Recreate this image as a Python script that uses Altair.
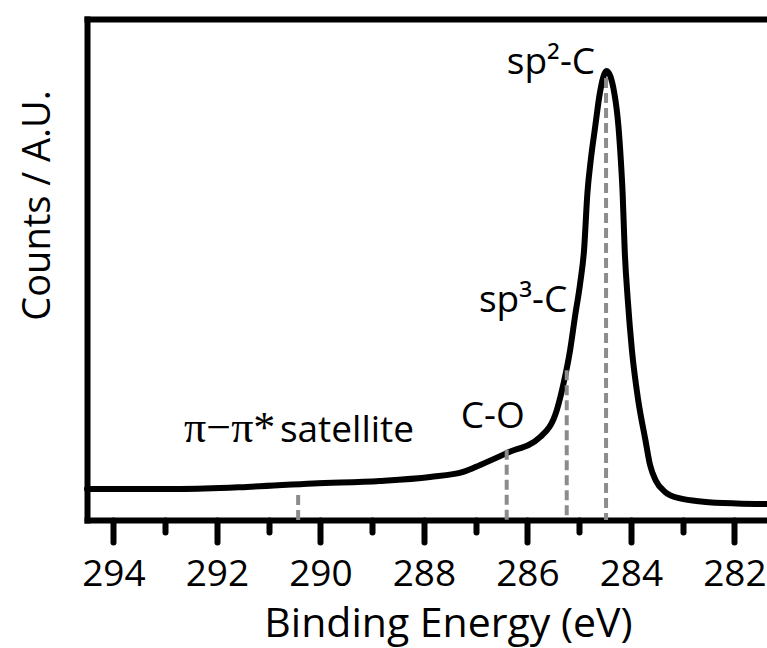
import altair as alt
import pandas as pd

# ---- spectrum ----
energy = [294.51, 292.71, 291.42, 290.14, 288.85, 287.88, 287.24, 286.91, 286.39,
          285.75, 285.43, 285.30, 285.175, 285.08, 284.98, 284.905, 284.84, 284.775,
          284.69, 284.60, 284.47, 284.32, 284.24, 284.195, 284.16, 284.12, 284.06,
          283.98, 283.86, 283.72, 283.63, 283.52, 283.34, 283.05, 282.60, 281.95, 281.37]
counts = [6.2, 6.2, 6.6, 7.3, 7.8, 8.6, 9.6, 11.0, 13.4,
          16.6, 22.0, 27.3, 33.9, 40.6, 47.3, 53.9, 65.3, 71.9,
          78.5, 85.2, 89.6, 85.2, 78.5, 71.9, 65.3, 53.9, 43.9,
          33.9, 24.0, 16.0, 11.0, 7.9, 5.6, 4.3, 3.65, 3.3, 3.2]

# ---- component positions (dashed markers) ----
marker_energy = [290.43, 286.40, 285.24, 284.48]
marker_top = [5.0, 14.0, 29.9, 88.2]
marker_bottom = [0, 0, 0, 0]

# ---- annotations ----
ann_text = ["sp²-C", "sp³-C", "C-O", "satellite"]
ann_energy = [284.69, 285.23, 286.05, 288.19]
ann_counts = [89.0, 41.5, 18.4, 15.6]
greek_text = ["π−π*"]
greek_energy = [290.87]
greek_counts = [15.6]

# ---- axis ----
x_domain = [281.37, 294.51]
y_domain = [0, 100]
tick_values = [282, 283, 284, 285, 286, 287, 288, 289, 290, 291, 292, 293, 294]

FONT = "Open Sans"

spec_df = pd.DataFrame({"energy": energy, "counts": counts})
mark_df = pd.DataFrame({"energy": marker_energy, "top": marker_top, "bottom": marker_bottom})
ann_df = pd.DataFrame({"energy": ann_energy, "counts": ann_counts, "text": ann_text})
greek_df = pd.DataFrame({"energy": greek_energy, "counts": greek_counts, "text": greek_text})

xscale = alt.Scale(domain=x_domain, reverse=True, nice=False, zero=False)
yscale = alt.Scale(domain=y_domain, nice=False, zero=False)

x_axis = alt.Axis(
    values=tick_values,
    labelExpr="datum.value % 2 === 0 ? datum.label : ''",
    tickSize={"condition": {"test": "datum.value % 2 === 0", "value": 22}, "value": 12},
    tickWidth=6, tickColor="black", tickCap="round",
    domainWidth=6, domainColor="black", domainCap="square",
    labelFont=FONT, labelFontSize=37, labelColor="black", labelPadding=14,
    labelFlush=False, labelOverlap=False, labelBound=False,
    grid=False,
    title="Binding Energy (eV)", titleFont=FONT, titleFontSize=41,
    titleFontWeight="normal", titleColor="black",
    titleX=361, titleY=116, titleAlign="center", titleBaseline="alphabetic",
)
y_axis = alt.Axis(
    labels=False, ticks=False, grid=False,
    domainWidth=6, domainColor="black", domainCap="square",
    title="Counts / A.U.", titleFont=FONT, titleFontSize=38,
    titleFontWeight="normal", titleColor="black",
    titleX=-49, titleY=186, titleAlign="center", titleBaseline="middle",
)
top_axis = alt.Axis(
    orient="top", labels=False, ticks=False, grid=False,
    domainWidth=6, domainColor="black", domainCap="square", title="",
)

line = alt.Chart(spec_df).mark_line(
    color="black", strokeWidth=6, interpolate="monotone", strokeCap="round", strokeJoin="round"
).encode(
    x=alt.X("energy:Q", scale=xscale, axis=x_axis),
    y=alt.Y("counts:Q", scale=yscale, axis=y_axis),
)

rules = alt.Chart(mark_df).mark_rule(
    color="#8c8c8c", strokeWidth=4, strokeDash=[10, 5]
).encode(
    x=alt.X("energy:Q", scale=xscale, axis=top_axis),
    y=alt.Y("top:Q", scale=yscale, axis=None),
    y2="bottom:Q",
)

labels = alt.Chart(ann_df).mark_text(
    font=FONT, fontSize=37, color="black", align="right", baseline="alphabetic"
).encode(
    x=alt.X("energy:Q", scale=xscale, axis=None),
    y=alt.Y("counts:Q", scale=yscale, axis=None),
    text="text:N",
)

greek = alt.Chart(greek_df).mark_text(
    font="Liberation Serif", fontSize=44, color="black", align="right", baseline="alphabetic"
).encode(
    x=alt.X("energy:Q", scale=xscale, axis=None),
    y=alt.Y("counts:Q", scale=yscale, axis=None),
    text="text:N",
)

chart = alt.layer(line, rules, labels, greek).resolve_axis(
    x="independent", y="independent"
).properties(
    width=680, height=501,
    autosize=alt.AutoSizeParams(type="none"),
    padding={"left": 87, "top": 19, "right": 0, "bottom": 128},
    background="white",
).configure_view(stroke=None)

chart.save("out.html", embed_options={"renderer": "svg", "actions": False})
